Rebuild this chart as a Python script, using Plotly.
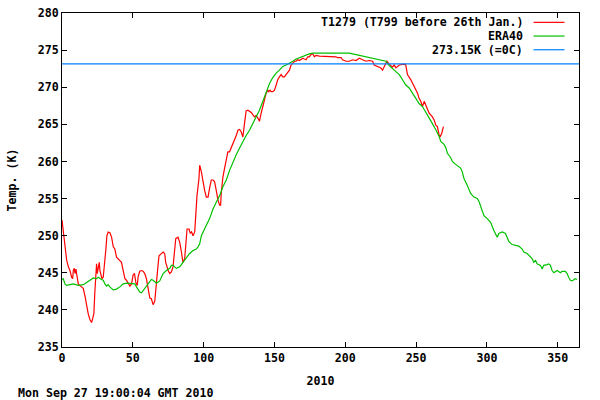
import plotly.graph_objects as go

# T1279 analysis (red)
t1279_day = [0, 0.9, 2.1, 3.3, 4.5, 5.6, 6.8, 7.5, 8.0, 8.7, 9.2, 9.9, 10.3, 10.8, 11.5, 13.1, 15.0, 16.2,
             17.4, 18.5, 19.7, 20.9, 21.6, 22.5, 23.2, 24.0, 24.4, 24.9, 25.6, 26.3, 26.8, 27.5, 28.2, 29.1,
             30.3, 31.0, 31.7, 32.6, 33.8, 35.0, 36.2, 37.3, 38.5, 39.7, 40.8, 42.0, 43.2, 44.4, 45.5, 46.7,
             47.9, 49.1, 50.2, 51.2, 52.1, 53.1, 53.8, 54.9, 56.1, 57.3, 58.4, 59.6, 60.8, 62.0, 63.1, 64.3,
             65.5, 66.2, 66.7, 67.8, 68.5, 70.2, 71.4, 72.5, 73.2, 74.2, 74.9, 76.1, 77.2, 78.4, 79.6, 80.3,
             81.9, 83.1, 84.3, 85.4, 86.6, 87.3, 88.3, 89.7, 90.6, 91.5, 92.5, 93.7, 94.4, 95.3, 96.7, 97.2,
             98.4, 99.5, 100.7, 101.9, 103.1, 104.2, 105.4, 106.6, 107.7, 108.9, 110.1, 111.3, 112.0, 112.4,
             113.6, 114.8, 116.0, 117.1, 118.3, 119.5, 120.7, 121.8, 123.0, 124.2, 125.4, 126.5, 127.7, 128.9,
             130.0, 131.2, 132.4, 133.6, 134.7, 135.9, 137.1, 138.3, 139.0, 139.4, 139.9, 140.6, 141.8, 142.9,
             144.1, 145.3, 146.0, 146.9, 147.6, 148.8, 150.0, 151.2, 152.3, 153.5, 154.7, 155.9, 157.0, 158.2,
             159.4, 160.6, 161.7, 162.9, 164.1, 165.3, 166.4, 167.6, 168.8, 170.0, 171.1, 172.3, 173.5, 174.6,
             175.8, 177.0, 178.2, 179.3, 181.7, 184.0, 186.4, 188.7, 191.1, 193.4, 194.6, 197.0, 198.1, 200.5,
             202.8, 205.2, 207.5, 209.9, 212.2, 214.6, 216.9, 219.3, 220.4, 222.8, 225.1, 226.3, 227.5, 229.4,
             231.0, 233.4, 234.5, 235.7, 238.1, 241.6, 242.7, 243.9, 246.3, 248.6, 251.0, 252.1, 253.3, 254.5,
             255.7, 256.8, 258.0, 259.2, 261.5, 262.7, 263.9, 265.0, 266.2, 266.9, 268.1, 268.6, 269.3]
t1279_temp = [252.1, 250.5, 248.2, 246.7, 245.8, 245.3, 244.4, 244.2, 245.3, 245.6, 244.9, 245.5, 244.9, 244.0,
              243.5, 243.2, 242.9, 241.9, 240.6, 239.5, 238.7, 238.3, 238.8, 239.5, 242.4, 246.0, 246.2, 244.9,
              245.8, 246.4, 245.3, 244.6, 244.2, 244.4, 246.4, 248.2, 250.0, 250.5, 250.4, 249.8, 248.5, 248.2,
              247.1, 246.9, 246.7, 246.4, 245.3, 244.2, 244.0, 243.5, 243.2, 243.5, 244.7, 244.9, 243.7, 243.3,
              244.5, 245.2, 245.3, 245.2, 244.9, 244.2, 242.8, 241.6, 241.5, 240.7, 241.2, 242.4, 243.7, 246.0,
              247.3, 247.6, 247.8, 247.6, 246.4, 245.8, 245.3, 244.9, 245.1, 245.8, 248.0, 249.6, 249.8, 249.1,
              247.8, 246.4, 246.9, 249.1, 250.9, 250.9, 250.3, 250.5, 250.0, 250.5, 252.7, 255.4, 257.7, 259.5,
              258.6, 257.3, 256.1, 255.2, 255.2, 256.4, 257.5, 257.5, 257.3, 256.1, 254.8, 254.1, 254.1, 255.7,
              257.9, 259.1, 260.4, 261.3, 261.3, 261.8, 262.4, 262.9, 263.5, 264.2, 264.3, 264.0, 263.3, 265.2,
              266.8, 266.9, 266.8, 266.6, 266.3, 266.0, 266.2, 265.9, 265.6, 265.4, 266.0, 266.5, 267.4, 268.3,
              269.2, 269.6, 269.4, 269.6, 269.4, 269.4, 269.6, 270.3, 271.0, 271.4, 271.7, 271.4, 271.4, 271.7,
              272.1, 272.3, 273.0, 273.2, 273.5, 273.5, 273.7, 273.6, 273.7, 273.9, 273.8, 273.7, 274.1, 274.1,
              274.4, 274.5, 274.1, 274.3, 274.2, 274.2, 274.1, 274.1, 274.2, 274.1, 274.0, 274.0, 273.7, 273.5,
              273.5, 273.7, 273.6, 273.9, 273.7, 273.5, 273.6, 273.5, 273.0, 272.8, 272.6, 272.3, 272.8, 273.5,
              273.1, 272.7, 273.0, 272.6, 273.0, 273.1, 273.0, 271.7, 271.0, 270.1, 269.2, 268.5, 268.1, 267.4,
              268.1, 267.6, 266.9, 266.5, 266.0, 265.6, 264.9, 264.7, 263.6, 263.3, 263.8, 264.2, 264.7]

# ERA40 climatology (green)
era40_day = [0, 0.9, 2.1, 3.3, 5.6, 8.0, 11.5, 15.0, 17.4, 19.7, 22.1, 24.4, 25.6, 27.9, 29.1, 30.3, 31.5,
             32.6, 33.8, 36.2, 37.3, 38.5, 40.8, 43.2, 45.5, 50.2, 51.4, 52.6, 53.8, 54.9, 56.1, 57.3, 58.4,
             59.6, 62.0, 63.1, 64.3, 66.7, 69.0, 71.4, 73.7, 76.1, 77.2, 78.4, 80.7, 83.1, 85.4, 87.8, 90.1,
             92.5, 94.8, 96.0, 97.2, 98.4, 99.5, 101.9, 104.2, 106.6, 108.9, 111.3, 113.6, 116.0, 118.3, 120.7,
             123.0, 125.4, 127.7, 130.0, 132.4, 134.7, 137.1, 139.4, 141.8, 144.1, 146.5, 148.8, 151.2, 153.5,
             155.9, 158.2, 160.6, 162.9, 165.3, 167.6, 170.0, 172.3, 174.6, 177.0, 184.0, 193.4, 202.8, 205.2,
             214.6, 224.0, 228.7, 231.0, 233.4, 235.7, 238.1, 240.4, 242.7, 245.1, 247.4, 249.8, 252.1, 254.5,
             256.8, 259.2, 261.5, 263.8, 266.2, 267.4, 269.7, 270.9, 272.1, 274.4, 275.6, 277.9, 280.3, 281.4,
             282.6, 283.8, 286.1, 288.5, 290.8, 293.2, 294.4, 296.7, 297.9, 300.2, 302.6, 304.9, 307.3, 308.4,
             310.8, 313.1, 314.3, 315.5, 317.8, 320.2, 322.5, 324.9, 326.0, 328.4, 330.7, 331.9, 333.1, 334.3,
             335.4, 337.8, 339.0, 340.1, 342.5, 343.6, 344.8, 346.0, 347.2, 349.5, 351.9, 353.0, 355.4, 356.6,
             357.7, 358.9, 360.1, 362.4, 363.6]
era40_temp = [244.1, 244.2, 243.5, 243.3, 243.4, 243.5, 243.3, 243.4, 243.7, 244.0, 244.3, 244.2, 244.4, 244.1,
              244.0, 243.5, 243.2, 243.4, 243.1, 242.7, 242.7, 242.8, 243.1, 243.5, 243.6, 243.6, 243.5, 243.1,
              242.8, 242.4, 242.3, 242.6, 242.9, 243.2, 243.9, 244.1, 244.0, 243.6, 243.9, 244.9, 245.3, 245.6,
              246.0, 246.0, 245.6, 245.8, 246.4, 247.1, 247.6, 248.0, 248.2, 248.5, 248.9, 250.0, 250.5, 251.4,
              252.3, 253.6, 254.5, 255.4, 256.6, 257.5, 258.8, 260.0, 260.9, 261.8, 262.7, 263.5, 264.2, 265.1,
              266.0, 266.9, 268.1, 269.4, 270.5, 271.3, 271.9, 272.3, 272.8, 273.0, 273.2, 273.5, 273.8, 274.0,
              274.1, 274.3, 274.5, 274.6, 274.6, 274.7, 274.6, 274.5, 274.1, 273.8, 273.5, 272.9, 272.5, 272.1,
              271.7, 271.0, 270.3, 269.9, 269.2, 268.5, 267.8, 267.4, 266.7, 265.9, 265.1, 264.3, 263.4, 262.7,
              262.3, 261.9, 261.1, 260.5, 260.0, 259.6, 259.3, 259.1, 258.6, 257.7, 256.8, 255.7, 255.2, 255.0,
              254.6, 253.4, 252.7, 252.3, 251.8, 250.7, 249.8, 250.3, 250.5, 250.3, 249.8, 249.2, 248.8, 248.7,
              248.6, 248.2, 247.8, 247.6, 247.2, 246.9, 246.4, 246.7, 246.2, 246.0, 245.5, 246.0, 246.1, 246.2,
              246.0, 245.3, 245.0, 245.3, 245.0, 245.2, 245.2, 244.9, 244.4, 244.0, 243.9, 244.2, 244.1]

# 0C reference line
freeze_day = [0, 365]
freeze_temp = [273.15, 273.15]

names = ["T1279 (T799 before 26th Jan.)", "ERA40", "273.15K (=0C)"]
colors = ["#ff0000", "#00c000", "#0080ff"]

font = "DejaVu Sans Mono"
txt = dict(family=font, size=11.6, color="black", weight="bold")

fig = go.Figure()
fig.add_trace(go.Scatter(x=t1279_day, y=t1279_temp, mode="lines", name=names[0],
                         line=dict(color=colors[0], width=1.2)))
fig.add_trace(go.Scatter(x=era40_day, y=era40_temp, mode="lines", name=names[1],
                         line=dict(color=colors[1], width=1.2)))
fig.add_trace(go.Scatter(x=freeze_day, y=freeze_temp, mode="lines", name=names[2],
                         line=dict(color=colors[2], width=1.2)))

axis_style = dict(showline=True, linecolor="black", linewidth=1, mirror="allticks",
                  ticks="inside", ticklen=5, tickcolor="black", showgrid=False, zeroline=False,
                  automargin=False, tickfont=txt)

fig.update_xaxes(range=[0, 365], dtick=50, tick0=0, **axis_style,
                 title=dict(text="2010", font=txt, standoff=12))
fig.update_yaxes(range=[235, 280], dtick=5, tick0=235, **axis_style,
                 title=dict(text="Temp. (K)", font=txt, standoff=18))

# gnuplot style key: text right aligned, sample line on the right
for i, (name, col) in enumerate(zip(names, colors)):
    ypos = 0.972 - i * 0.041
    fig.add_annotation(x=0.896, y=ypos, xref="paper", yref="paper", text=name, showarrow=False,
                       xanchor="right", yanchor="middle", font=txt)
    fig.add_shape(type="line", xref="paper", yref="paper", x0=0.912, x1=0.972, y0=ypos, y1=ypos,
                  line=dict(color=col, width=1.2))

fig.add_annotation(x=-0.089, y=-0.138, xref="paper", yref="paper", text="Mon Sep 27 19:00:04 GMT 2010",
                   showarrow=False, xanchor="left", yanchor="middle", font=txt)

fig.update_layout(width=600, height=400, showlegend=False,
                  plot_bgcolor="white", paper_bgcolor="white",
                  margin=dict(l=62, r=21, t=13, b=53))

# drop the default page margin so the figure sits at the window corner
fig.write_html("out.html", config={"displayModeBar": False},
               post_script="document.body.style.margin='0';")
